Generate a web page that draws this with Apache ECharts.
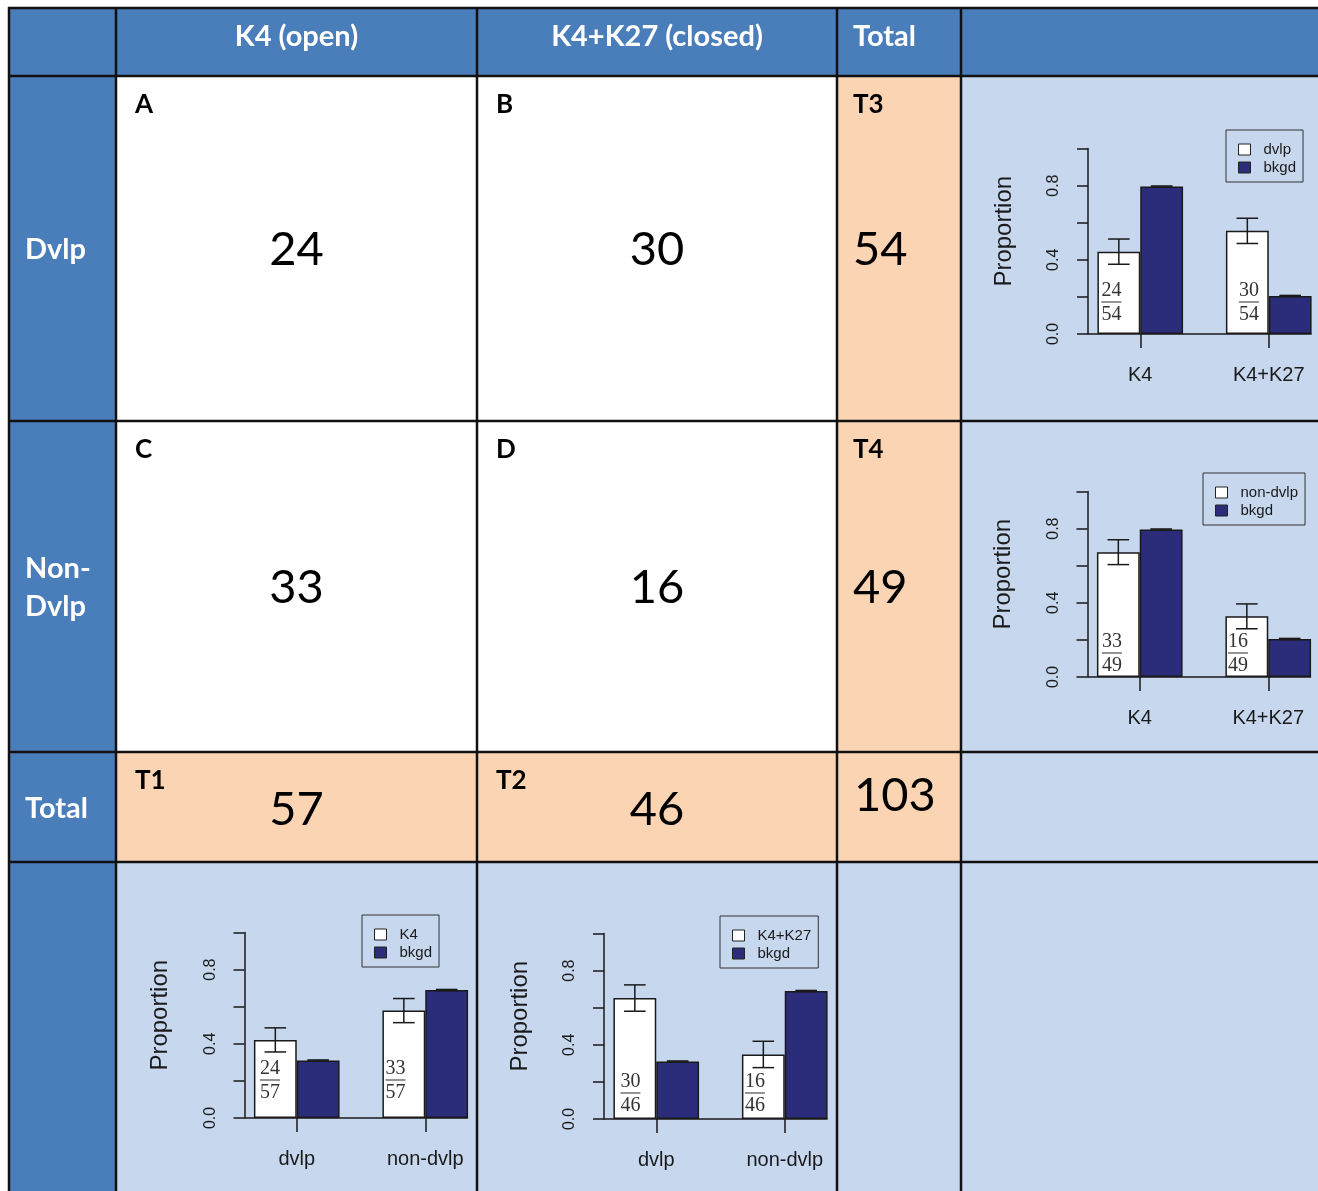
<!DOCTYPE html>
<html>
<head>
<meta charset="utf-8">
<script src="https://cdn.jsdelivr.net/npm/echarts@6/dist/echarts.min.js"></script>
<style>
html, body { margin: 0; padding: 0; background: #fff; overflow: hidden; }
#main { width: 1345px; height: 1191px; }
</style>
</head>
<body>
<div id="main"></div>
<script>
// contingency table
var colHeaders = ['', 'K4 (open)', 'K4+K27 (closed)', 'Total', ''];
var rowHeaders = ['Dvlp', 'Non-\nDvlp', 'Total', ''];
var cellTags = [['A', 'B', 'T3'], ['C', 'D', 'T4'], ['T1', 'T2', '']];
var counts = [[24, 30], [33, 16]];
var rowTotals = [54, 49];
var colTotals = [57, 46];
var grandTotal = 103;

// small bar panels (proportions)
var markCats = ['K4', 'K4+K27'];
var devCats = ['dvlp', 'non-dvlp'];
var dvlpProp = [0.444, 0.556];
var dvlpErr = [0.068, 0.068];
var nonDvlpProp = [0.673, 0.327];
var nonDvlpErr = [0.067, 0.067];
var bkgdByMark = [0.795, 0.205];
var k4Prop = [0.421, 0.579];
var k4Err = [0.065, 0.065];
var k27Prop = [0.652, 0.348];
var k27Err = [0.071, 0.071];
var bkgdByDev = [0.31, 0.69];
var bkgdErr = [0.003, 0.003];
var yTickLabels = ['0.0', '', '0.4', '', '0.8', ''];

var HEAD = '#4a7ebb', LIGHT = '#c6d7ee', PEACH = '#fbd4b4', NAVY = '#2b2d7a', INK = '#1a1a1a';
var tableFont = 'Lato, "Open Sans", sans-serif';
var plotFont = '"Liberation Sans", Arial, sans-serif';
var axisShift = 12;

// layout of each panel; fracDx / fracLift place the little fractions inside the white bars
var panels = [
    { cats: markCats, name: 'dvlp', vals: dvlpProp, err: dvlpErr, bk: bkgdByMark,
      num: counts[0], den: [rowTotals[0], rowTotals[0]],
      left: 1076, top: 148.5, legLeft: 1226, legTop: 130, fracDx: [14, 23], fracLift: 0 },
    { cats: markCats, name: 'non-dvlp', vals: nonDvlpProp, err: nonDvlpErr, bk: bkgdByMark,
      num: counts[1], den: [rowTotals[1], rowTotals[1]],
      left: 1075.5, top: 491.5, legLeft: 1203, legTop: 473, fracDx: [15, 12.5], fracLift: -8 },
    { cats: devCats, name: 'K4', vals: k4Prop, err: k4Err, bk: bkgdByDev,
      num: [counts[0][0], counts[1][0]], den: [colTotals[0], colTotals[0]],
      left: 232.5, top: 932.5, legLeft: 362, legTop: 915, fracDx: [16, 13], fracLift: 6 },
    { cats: devCats, name: 'K4+K27', vals: k27Prop, err: k27Err, bk: bkgdByDev,
      num: [counts[0][1], counts[1][1]], den: [colTotals[1], colTotals[1]],
      left: 592, top: 933.5, legLeft: 720, legTop: 916, fracDx: [17, 13], fracLift: -6 }
];

// ---- table drawn as graphic elements ----
var colX = [9, 116, 477, 837, 961, 1340];
var rowY = [8, 76, 421, 752, 862, 1200];

function cellFill(r, c) {
    if (r == 0 || c == 0) return HEAD;
    if (r == 4 || c == 4) return LIGHT;
    if (r < 3 && c < 3) return '#ffffff';
    return PEACH;
}

var elements = [];
for (var r = 0; r < 5; r++) {
    for (var c = 0; c < 5; c++) {
        elements.push({
            type: 'rect', z: -10, silent: true,
            shape: { x: colX[c], y: rowY[r], width: colX[c + 1] - colX[c], height: rowY[r + 1] - rowY[r] },
            style: { fill: cellFill(r, c) }
        });
    }
}
for (var i = 0; i < 5; i++) {
    elements.push({ type: 'line', z: -9, silent: true,
        shape: { x1: colX[i], y1: rowY[0] - 1, x2: colX[i], y2: 1200 },
        style: { stroke: '#111', lineWidth: 2.5 } });
    elements.push({ type: 'line', z: -9, silent: true,
        shape: { x1: colX[0] - 1, y1: rowY[i], x2: 1340, y2: rowY[i] },
        style: { stroke: '#111', lineWidth: 2.5 } });
}

function addText(txt, x, y, size, weight, color, align, lh) {
    elements.push({ type: 'text', z: -8, silent: true,
        style: { text: String(txt), x: x, y: y, fill: color, align: align, verticalAlign: 'middle',
            font: weight + ' ' + size + 'px ' + tableFont, lineHeight: lh || size } });
}

// column headers
addText(colHeaders[1], (colX[1] + colX[2]) / 2, 37, 29, 'bold', '#fff', 'center');
addText(colHeaders[2], (colX[2] + colX[3]) / 2, 37, 29, 'bold', '#fff', 'center');
addText(colHeaders[3], 853, 37, 29, 'bold', '#fff', 'left');
// row headers
addText(rowHeaders[0], 25, 250, 29, 'bold', '#fff', 'left');
addText(rowHeaders[1], 25, 588, 29, 'bold', '#fff', 'left', 38);
addText(rowHeaders[2], 25, 809, 29, 'bold', '#fff', 'left');
// tags
for (var r = 0; r < 3; r++) {
    for (var c = 0; c < 3; c++) {
        if (!cellTags[r][c]) continue;
        var tx = c < 2 ? colX[c + 1] + 19 : colX[c + 1] + 16;
        addText(cellTags[r][c], tx, rowY[r + 1] + 29, 26, 'bold', '#000', 'left');
    }
}
// counts
var midY = [250, 588];
for (var r = 0; r < 2; r++) {
    for (var c = 0; c < 2; c++) {
        addText(counts[r][c], (colX[c + 1] + colX[c + 2]) / 2, midY[r], 47, 'normal', '#000', 'center');
    }
    addText(rowTotals[r], 853, midY[r], 47, 'normal', '#000', 'left');
}
addText(colTotals[0], (colX[1] + colX[2]) / 2, 810, 47, 'normal', '#000', 'center');
addText(colTotals[1], (colX[2] + colX[3]) / 2, 810, 47, 'normal', '#000', 'center');
addText(grandTotal, 854, 796, 47, 'normal', '#000', 'left');

// ---- panels ----
var grids = [], xAxes = [], yAxes = [], legends = [], series = [];

function errorBarRenderer(shift, capFrac) {
    return function (params, api) {
        var lo = api.coord([api.value(0), api.value(1)]);
        var hi = api.coord([api.value(0), api.value(2)]);
        var band = api.size([1, 0])[0];
        var x = lo[0] + shift * band;
        var h = band * capFrac;
        var st = { stroke: INK, lineWidth: 1.5 };
        return { type: 'group', children: [
            { type: 'line', shape: { x1: x, y1: lo[1], x2: x, y2: hi[1] }, style: st },
            { type: 'line', shape: { x1: x - h, y1: lo[1], x2: x + h, y2: lo[1] }, style: st },
            { type: 'line', shape: { x1: x - h, y1: hi[1], x2: x + h, y2: hi[1] }, style: st }
        ] };
    };
}

// base line from the y axis to the right edge of the last bar
function baselineRenderer(params, api) {
    var a = api.coord([0, 0]);
    var b = api.coord([1, 0]);
    var band = api.size([1, 0])[0];
    return { type: 'line',
        shape: { x1: a[0] - band / 2 + axisShift, y1: a[1], x2: b[0] + band / 3, y2: a[1] },
        style: { stroke: INK, lineWidth: 1.5 } };
}

function fractionRenderer(p) {
    return function (params, api) {
        var k = api.value(0);
        var base = api.coord([k, 0]);
        var band = api.size([1, 0])[0];
        var x = base[0] - band / 3 + p.fracDx[k];
        var y = base[1] - p.fracLift;
        var f = '20px "Liberation Serif", "Times New Roman", serif';
        return { type: 'group', children: [
            { type: 'text', style: { text: String(api.value(2)), x: x, y: y - 43, font: f, fill: '#333', align: 'center', verticalAlign: 'middle' } },
            { type: 'line', shape: { x1: x - 10, y1: y - 32, x2: x + 10, y2: y - 32 }, style: { stroke: '#666', lineWidth: 1.4 } },
            { type: 'text', style: { text: String(api.value(3)), x: x, y: y - 19, font: f, fill: '#333', align: 'center', verticalAlign: 'middle' } }
        ] };
    };
}

panels.forEach(function (p, i) {
    grids.push({ left: p.left, top: p.top, width: 257, height: 185.5 });
    xAxes.push({
        type: 'category', gridIndex: i, data: p.cats,
        axisLine: { show: false },
        axisTick: { show: true, alignWithLabel: true, length: 14, lineStyle: { color: INK, width: 1.5 } },
        axisLabel: { margin: 31, fontSize: 20, color: INK, fontFamily: plotFont },
        splitLine: { show: false }
    });
    yAxes.push({
        type: 'value', gridIndex: i, min: 0, max: 1, interval: 0.2, offset: -axisShift,
        name: 'Proportion', nameLocation: 'middle', nameGap: 72, nameRotate: 90,
        nameTextStyle: { fontSize: 24, color: INK, fontFamily: plotFont, padding: [0, 0, 0, 20] },
        axisLine: { show: true, lineStyle: { color: INK, width: 1.5 } },
        axisTick: { show: true, length: 11, lineStyle: { color: INK, width: 1.5 } },
        axisLabel: { rotate: 90, margin: 26, fontSize: 16, color: INK, fontFamily: plotFont,
            formatter: function (v, idx) { return yTickLabels[idx]; } },
        splitLine: { show: false }
    });
    legends.push({
        data: [p.name, 'bkgd'], orient: 'vertical', left: p.legLeft, top: p.legTop,
        padding: [12, 7, 7, 12], itemGap: 3, itemWidth: 12, itemHeight: 11, icon: 'rect',
        borderColor: '#333', borderWidth: 1, backgroundColor: 'transparent',
        itemStyle: { borderColor: '#222', borderWidth: 1 },
        selectedMode: false,
        textStyle: { fontSize: 15, lineHeight: 15, color: INK, fontFamily: plotFont, padding: [0, 0, 0, 8] }
    });
    var barBase = { type: 'bar', xAxisIndex: i, yAxisIndex: i, barGap: '0%', barCategoryGap: '33.33%' };
    series.push(Object.assign({}, barBase, { name: p.name, data: p.vals,
        itemStyle: { color: '#ffffff', borderColor: INK, borderWidth: 1.5 } }));
    series.push(Object.assign({}, barBase, { name: 'bkgd', data: p.bk,
        itemStyle: { color: NAVY, borderColor: INK, borderWidth: 1.5 } }));
    series.push({ type: 'custom', xAxisIndex: i, yAxisIndex: i, z: 4,
        renderItem: baselineRenderer, encode: { x: 0, y: 1 }, data: [[0, 0]] });
    series.push({ type: 'custom', xAxisIndex: i, yAxisIndex: i, z: 5,
        renderItem: errorBarRenderer(-1 / 6, 0.084), encode: { x: 0, y: [1, 2] },
        data: p.vals.map(function (v, k) { return [k, v - p.err[k], v + p.err[k]]; }) });
    series.push({ type: 'custom', xAxisIndex: i, yAxisIndex: i, z: 5,
        renderItem: errorBarRenderer(1 / 6, 0.084), encode: { x: 0, y: [1, 2] },
        data: p.bk.map(function (v, k) { return [k, v - bkgdErr[k], v + bkgdErr[k]]; }) });
    series.push({ type: 'custom', xAxisIndex: i, yAxisIndex: i, z: 6,
        renderItem: fractionRenderer(p), encode: { x: 0, y: 1 },
        data: p.num.map(function (n, k) { return [k, 0, n, p.den[k]]; }) });
});

var chart = echarts.init(document.getElementById('main'), null, { renderer: 'canvas' });
chart.setOption({
    animation: false,
    backgroundColor: '#ffffff',
    graphic: { elements: elements },
    grid: grids,
    xAxis: xAxes,
    yAxis: yAxes,
    legend: legends,
    series: series
});
</script>
</body>
</html>
